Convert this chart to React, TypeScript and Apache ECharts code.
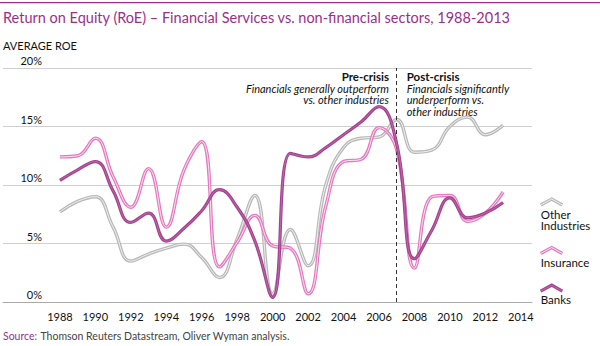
import React, { useEffect, useRef } from "react";
import * as echarts from "echarts";

const years = [1988, 1989, 1990, 1991, 1992, 1993, 1994, 1995, 1996, 1997, 1998, 1999, 2000, 2001, 2002, 2003, 2004, 2005, 2006, 2007, 2008, 2009, 2010, 2011, 2012, 2013];
const otherIndustries = [7.7, 8.6, 9.0, 6.4, 3.5, 4.1, 4.6, 4.95, 3.8, 2.1, 5.4, 9.1, 0.7, 6.2, 3.1, 10.0, 13.2, 14.0, 14.1, 15.6, 12.8, 13.0, 15.0, 15.8, 14.3, 15.1];
const insurance = [12.4, 12.5, 14.0, 10.7, 8.1, 11.4, 6.4, 11.3, 13.7, 3.0, 5.1, 7.4, 4.8, 4.6, 0.7, 8.2, 12.0, 12.2, 14.9, 13.0, 2.9, 9.0, 9.1, 6.9, 7.6, 9.4];
const banks = [10.4, 11.3, 12.0, 9.5, 6.8, 7.6, 5.2, 6.3, 7.8, 9.6, 8.1, 5.2, 0.4, 12.7, 12.4, 13.2, 14.3, 15.4, 16.7, 13.5, 3.7, 6.2, 8.9, 7.2, 7.6, 8.5];
const xTickLabels = [1988, 1990, 1992, 1994, 1996, 1998, 2000, 2002, 2004, 2006, 2008, 2010, 2012, 2014];
const crisisYear = 2007;

const FONT = "Lato, 'Open Sans', sans-serif";
const PURPLE = "#9b2f88";
const GRAY = "#b8b8b8";
const PINK = "#e47ac0";
const BANK = "#a4428f";

const pairs = (vals: number[]) => years.map((y, i) => [y, vals[i]]);

function lineSeries(name: string, vals: number[], color: string, width: number, z: number, extra: any = {}) {
  return {
    name,
    type: "line",
    data: pairs(vals),
    smooth: 0.45,
    showSymbol: false,
    symbol: "none",
    z,
    lineStyle: { color, width },
    emphasis: { disabled: true },
    ...extra,
  };
}

function chevron(y: number, outer: string, inner: string) {
  const pts = [[540.7, y + 6], [551.7, y], [562.3, y + 6]];
  return [
    { type: "polyline", shape: { points: pts }, style: { stroke: outer, lineWidth: 3.2, fill: null } },
    { type: "polyline", shape: { points: pts }, style: { stroke: inner, lineWidth: 1, fill: null } },
  ];
}

function txt(text: string, x: number, y: number, opts: any = {}) {
  return {
    type: "text",
    x,
    y,
    style: {
      text,
      fontFamily: FONT,
      fontSize: 11,
      fill: "#111",
      verticalAlign: "middle",
      ...opts,
    },
  };
}

export default function App() {
  const ref = useRef<HTMLDivElement>(null);
  useEffect(() => {
    const chart = echarts.init(ref.current!, null, { renderer: "svg" });
    chart.setOption({
      animation: false,
      backgroundColor: "#fff",
      textStyle: { fontFamily: FONT },
      grid: { left: 3, right: 68, top: 68, bottom: 44, containLabel: false },
      xAxis: {
        type: "value",
        min: 1984.79,
        max: 2014.63,
        axisLine: { show: true, lineStyle: { color: "#aaaaaa", width: 1 } },
        axisTick: { show: false },
        splitLine: { show: false },
        axisLabel: {
          customValues: xTickLabels,
          formatter: (v: number) => String(v),
          color: "#111",
          fontSize: 11,
          fontFamily: FONT,
          margin: 9,
        },
      },
      yAxis: {
        type: "value",
        min: 0,
        max: 20,
        interval: 5,
        axisLine: { show: false },
        axisTick: { show: false },
        splitLine: { show: true, lineStyle: { color: "#cfcfcf", width: 1 } },
        axisLabel: {
          inside: true,
          align: "right",
          verticalAlign: "bottom",
          margin: 39,
          padding: [0, 0, 2, 0],
          formatter: "{value}%",
          color: "#111",
          fontSize: 11,
          fontFamily: FONT,
        },
      },
      series: [
        lineSeries("Other Industries", otherIndustries, GRAY, 3.4, 2),
        lineSeries("Other Industries (inner)", otherIndustries, "#f2f2f2", 1, 3),
        lineSeries("Insurance", insurance, PINK, 3.4, 4),
        lineSeries("Insurance (inner)", insurance, "#fbe3f2", 1, 5),
        lineSeries("Banks", banks, BANK, 3.2, 6, {
          markLine: {
            silent: true,
            symbol: "none",
            label: { show: false },
            lineStyle: { color: "#333", type: [4, 3], width: 1 },
            data: [{ xAxis: crisisYear }],
          },
        }),
        lineSeries("Banks (inner)", banks, "#b86aa8", 1, 7),
      ],
      graphic: [
        { type: "line", shape: { x1: 0, y1: 2.7, x2: 600, y2: 2.7 }, style: { stroke: PURPLE, lineWidth: 1.2 } },
        txt("Return on Equity (RoE) – Financial Services vs. non-financial sectors, 1988-2013", 3, 17, { fontSize: 14.5, fill: PURPLE }),
        txt("AVERAGE ROE", 3, 45.5, { fontSize: 11 }),
        txt("Pre-crisis", 389, 76, { align: "right", fontWeight: "bold", fontSize: 11.5 }),
        txt("Financials generally outperform", 389, 88, { align: "right", fontStyle: "italic" }),
        txt("vs. other industries", 389, 99.5, { align: "right", fontStyle: "italic" }),
        txt("Post-crisis", 406.7, 76, { fontWeight: "bold", fontSize: 11.5 }),
        txt("Financials significantly", 406.7, 88, { fontStyle: "italic" }),
        txt("underperform vs.", 406.7, 99.5, { fontStyle: "italic" }),
        txt("other industries", 406.7, 111, { fontStyle: "italic" }),
        ...chevron(199, GRAY, "#f2f2f2"),
        txt("Other", 540.7, 214, { fontSize: 11.5 }),
        txt("Industries", 540.7, 225.5, { fontSize: 11.5 }),
        ...chevron(247.5, PINK, "#fbe3f2"),
        txt("Insurance", 540.7, 262, { fontSize: 11.5 }),
        ...chevron(285.2, BANK, "#b86aa8"),
        txt("Banks", 540.7, 299, { fontSize: 11.5 }),
        {
          type: "text",
          x: 3,
          y: 336,
          style: {
            text: "{a|Source:} {b|Thomson Reuters Datastream, Oliver Wyman analysis.}",
            verticalAlign: "middle",
            rich: {
              a: { fill: PURPLE, fontSize: 10.5, fontFamily: FONT },
              b: { fill: "#444", fontSize: 10.5, fontFamily: FONT },
            },
          },
        },
      ],
    });
    return () => chart.dispose();
  }, []);
  return <div ref={ref} style={{ position: "fixed", left: 0, top: 0, width: 600, height: 346 }} />;
}
